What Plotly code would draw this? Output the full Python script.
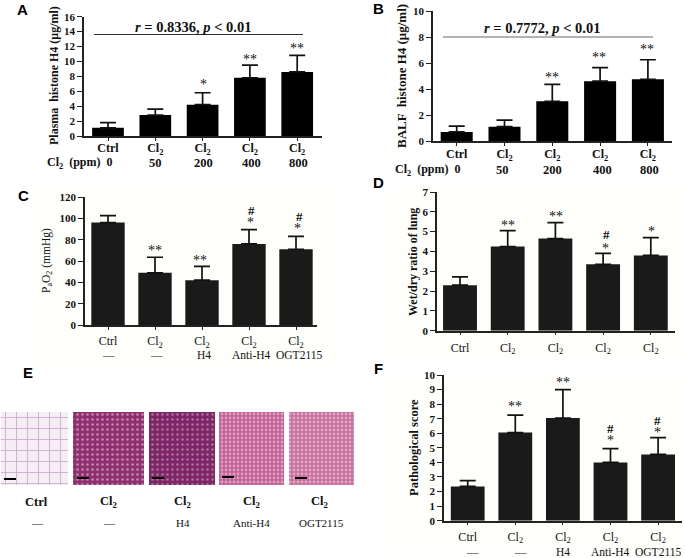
import plotly.graph_objects as go

W, H = 685, 558
SERIF = "Liberation Serif"
SANS = "Liberation Sans"

# ---------- data ----------
labels_a = ["Ctrl", "Cl<sub>2</sub>", "Cl<sub>2</sub>", "Cl<sub>2</sub>", "Cl<sub>2</sub>"]
row2_ppm = ["50", "200", "400", "800"]
row2_treat = ["—", "—", "H4", "Anti-H4", "OGT2115"]

plasma_h4 = [1.1, 2.8, 4.2, 7.8, 8.6]
plasma_h4_top = [1.8, 3.6, 5.8, 9.5, 10.8]
balf_h4 = [0.7, 1.1, 3.05, 4.6, 4.75]
balf_h4_top = [1.15, 1.6, 4.35, 5.65, 6.25]
pao2 = [96, 49, 42, 76, 71]
pao2_top = [102.5, 63.5, 55, 89.5, 83]
wet_dry = [2.3, 4.25, 4.65, 3.35, 3.8]
wet_dry_top = [2.72, 5.05, 5.45, 3.9, 4.7]
path_score = [2.35, 6.05, 7.05, 4.0, 4.55]
path_score_top = [2.75, 7.25, 9.0, 4.95, 5.7]

ticks_a = [0, 2, 4, 6, 8, 10, 12, 14, 16]
ticks_b = [0, 2, 4, 6, 8, 10]
ticks_c = [0, 20, 40, 60, 80, 100, 120]
ticks_d = [0, 1, 2, 3, 4, 5, 6, 7]
ticks_f = [0, 1, 2, 3, 4, 5, 6, 7, 8, 9, 10]

micrograph_names = ["Ctrl", "Cl2", "Cl2 H4", "Cl2 Anti-H4", "Cl2 OGT2115"]


# ---------- helpers ----------
def px(x):
    return x / W


def py(y):
    return 1 - y / H


fig = go.Figure()
annotations = []
shapes = []


def text(x, y, s, size=10, bold=False, font=SERIF, color="#111", angle=0, xanchor="center"):
    annotations.append(dict(
        x=px(x), y=py(y), xref="paper", yref="paper", text=s, showarrow=False,
        xanchor=xanchor, yanchor="middle", textangle=angle,
        font=dict(family=font, size=size, color=color, weight="bold" if bold else "normal"),
    ))


def panel(idx, values, tops, ticks, ymax, left, right, top, bottom, c0, step, color, barw,
          tickbold, standoff):
    xa, ya = f"xaxis{idx}", f"yaxis{idx}"
    xs = list(range(len(values)))
    fig.add_trace(go.Bar(
        x=xs, y=values, width=barw, xaxis=f"x{idx}", yaxis=f"y{idx}",
        marker=dict(color=color, line=dict(width=0)),
        error_y=dict(type="data", symmetric=False,
                     array=[t - v for t, v in zip(tops, values)],
                     arrayminus=[0] * len(values),
                     color="#111", thickness=1.7, width=8),
        showlegend=False,
    ))
    layout = {
        xa: dict(domain=[px(left), px(right)], anchor=f"y{idx}",
                 range=[(left - c0) / step, (right - c0) / step],
                 tickmode="array", tickvals=xs, ticktext=labels_a,
                 showline=True, linecolor="#222", linewidth=1.5, showgrid=False, zeroline=False,
                 ticks="outside", ticklen=3, tickwidth=1.3, tickcolor="#222",
                 ticklabelstandoff=standoff,
                 tickfont=dict(family=SERIF, size=12, color="#111",
                               weight="bold" if tickbold else "normal")),
        ya: dict(domain=[py(bottom), py(top)], anchor=f"x{idx}", range=[0, ymax],
                 tickmode="array", tickvals=ticks,
                 showline=True, linecolor="#222", linewidth=1.5, showgrid=False, zeroline=False,
                 ticks="outside", ticklen=5, tickwidth=1.3, tickcolor="#222",
                 tickfont=dict(family=SERIF, size=11, color="#111", weight="bold")),
    }
    fig.update_layout(**layout)


# faint background of the lower panels
for x0, x1, y0, y1 in [(27, 337, 186, 365), (393, 685, 185, 360), (393, 685, 375, 558)]:
    shapes.append(dict(type="rect", xref="paper", yref="paper", x0=px(x0), x1=px(x1),
                       y0=py(y0), y1=py(y1), fillcolor="#fefefb", line=dict(width=0), layer="below"))

panel(1, plasma_h4, plasma_h4_top, ticks_a, 16, 84, 322, 16.7, 136, 108, 47.3, "#000", 0.67, True, -3)
panel(2, balf_h4, balf_h4_top, ticks_b, 10, 433, 672, 11, 141, 456.7, 47.8, "#000", 0.67, True, -2)
panel(3, pao2, pao2_top, ticks_c, 120, 85, 317, 197, 325, 108, 47, "#1a1a1a", 0.71, False, 1)
panel(4, wet_dry, wet_dry_top, ticks_d, 7, 437, 675, 192, 330.7, 460, 47.7, "#1a1a1a", 0.71, False, 2)
panel(5, path_score, path_score_top, ticks_f, 10, 444, 682, 375, 520.7, 467.7, 47.6, "#1a1a1a", 0.71, False, 1)

# ---------- micrographs of panel E (textured panels on a helper axis) ----------
img_centers = [34.5, 108.5, 182, 251.5, 321.5]
img_widths = [67, 71, 66, 65, 65]
img_bg = ["#f6eef4", "#8f2f70", "#7f2668", "#c45f95", "#c86c9c"]
img_fg = ["#b078b4", "#f0e4ea", "#dcc8d4", "#f2e6ec", "#f4e8ee"]
img_shape = ["+", ".", ".", ".", "."]
img_size = [11, 5, 5, 4, 4]
img_solid = [0.18, 0.22, 0.18, 0.38, 0.38]
for i, name in enumerate(micrograph_names):
    fig.add_trace(go.Bar(
        x=[img_centers[i]], y=[1], width=img_widths[i], xaxis="x6", yaxis="y6", name=name,
        marker=dict(color=img_bg[i], line=dict(width=0),
                    pattern=dict(shape=img_shape[i], bgcolor=img_bg[i], fgcolor=img_fg[i],
                                 size=img_size[i], solidity=img_solid[i])),
        showlegend=False, hoverinfo="name",
    ))
fig.update_layout(
    xaxis6=dict(domain=[0, 1], range=[0, W], visible=False, anchor="y6"),
    yaxis6=dict(domain=[py(485), py(412)], range=[0, 1], visible=False, anchor="x6"),
)
for x0, x1, y in [(4, 16, 479), (77, 89, 478), (152, 164, 478), (222, 234, 477), (295, 307, 478)]:
    shapes.append(dict(type="line", xref="paper", yref="paper", x0=px(x0), x1=px(x1),
                       y0=py(y), y1=py(y), line=dict(color="#000", width=2)))

# correlation rules
shapes.append(dict(type="line", xref="paper", yref="paper", x0=px(94), x1=px(303),
                   y0=py(34.5), y1=py(34.5), line=dict(color="#333", width=1)))
shapes.append(dict(type="line", xref="paper", yref="paper", x0=px(443), x1=px(653),
                   y0=py(37), y1=py(37), line=dict(color="#666", width=1)))

# ---------- panel letters ----------
for s, x, y in [("A", 22, 10), ("B", 379, 9), ("C", 23, 195), ("D", 378, 183), ("E", 28, 372), ("F", 379, 368)]:
    text(x, y, s, size=15, bold=True, font=SANS, color="#000")

# ---------- stats lines ----------
text(193, 27, "<i>r</i> = 0.8336, <i>p</i> &lt; 0.01", size=14.5, bold=True)
text(542, 28, "<i>r</i> = 0.7772, <i>p</i> &lt; 0.01", size=14.5, bold=True)

# ---------- axis titles ----------
text(54, 76, "Plasma  histone H4 (μg/ml)", size=12, bold=True, angle=-90)
text(402, 76, "BALF  histone H4 (μg/ml)", size=13, bold=True, angle=-90)
text(47, 261, "P<sub>a</sub>O<sub>2</sub> (mmHg)", size=11.5, angle=-90)
text(413, 262, "Wet/dry ratio of lung", size=12, bold=True, angle=-90)
text(414, 448, "Pathological score", size=12.5, bold=True, angle=-90)

# ---------- second label rows ----------
text(45, 163, "Cl<sub>2</sub>  (ppm)  0", size=12, bold=True, xanchor="left")
for s, x in zip(row2_ppm, [155, 203, 252, 298]):
    text(x, 163, s, size=12.5, bold=True)
text(393, 170, "Cl<sub>2</sub>  (ppm)  0", size=12, bold=True, xanchor="left")
for s, x in zip(row2_ppm, [502, 552, 602, 649]):
    text(x, 170, s, size=12.5, bold=True)
for s, x in zip(row2_treat, [108, 156, 204, 252, 299]):
    text(x, 355, s, size=11.5)
for s, x in zip(row2_treat, [472, 520, 563, 610, 658]):
    text(x, 552, s, size=11.5)
for s, x in zip(labels_a, [36, 108, 183, 252, 319]):
    text(x, 502, s, size=12.5, bold=True)
for s, x in zip(row2_treat, [37, 109, 183, 251, 321]):
    text(x, 523, s, size=11)

# ---------- significance marks ----------
marks = [
    ("*", 203, 85), ("**", 250, 59), ("**", 297, 48),
    ("**", 552, 78), ("**", 599, 57), ("**", 647, 50),
    ("**", 155, 250), ("**", 200, 260), ("#", 251, 210), ("*", 250, 222), ("#", 299, 216), ("*", 297, 228),
    ("**", 508, 225), ("**", 556, 216), ("#", 606, 235), ("*", 605, 248), ("*", 651, 232),
    ("**", 515, 406), ("**", 563, 382), ("#", 610, 428), ("*", 610, 440), ("#", 657, 420), ("*", 657, 432),
]
for s, x, y in marks:
    text(x, y, s, size=14 if s != "#" else 13, bold=(s == "#"), color="#111")

fig.update_layout(
    width=W, height=H, margin=dict(l=0, r=0, t=0, b=0, autoexpand=False),
    paper_bgcolor="#ffffff", plot_bgcolor="rgba(0,0,0,0)",
    barmode="overlay", showlegend=False, annotations=annotations, shapes=shapes,
)
fig.write_html("out.html", config={"displayModeBar": False},
               post_script="document.body.style.margin='0';document.body.style.overflow='hidden';")
